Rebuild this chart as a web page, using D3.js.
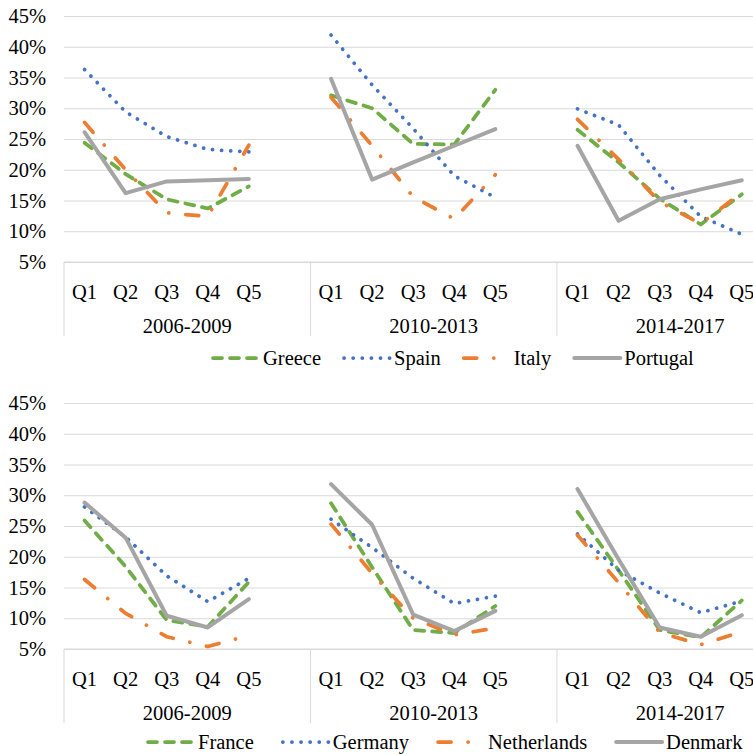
<!DOCTYPE html>
<html>
<head>
<meta charset="utf-8">
<script src="https://cdn.jsdelivr.net/npm/d3@7"></script>
<style>
  html, body { margin: 0; padding: 0; background: #fff; }
  svg text { font-family: "Liberation Serif", "Times New Roman", serif; fill: #000; }
</style>
</head>
<body>
<svg id="chart" width="753" height="754"></svg>
<script>
// ---------------- DATA ----------------
const periods = ["2006-2009", "2010-2013", "2014-2017"];
const quintiles = ["Q1", "Q2", "Q3", "Q4", "Q5"];
const yTicks = [5, 10, 15, 20, 25, 30, 35, 40, 45];

// Top panel (share, %), one array of 5 per period
const greece   = [[24.4, 19.3, 15.2, 13.7, 17.3], [32.1, 30.0, 24.2, 24.1, 33.0], [26.5, 21.2, 15.3, 11.1, 16.0]];
const spain    = [[36.3, 29.4, 25.4, 23.3, 22.9], [41.9, 33.8, 26.7, 19.0, 15.5], [29.9, 27.3, 19.1, 12.4, 9.5]];
const italy    = [[27.7, 20.0, 13.0, 12.4, 24.0], [31.8, 23.9, 15.6, 12.0, 19.2], [28.2, 21.7, 14.8, 11.2, 16.3]];
const portugal = [[26.1, 16.2, 18.1, 18.3, 18.5], [34.8, 18.4, 21.2, 23.9, 26.6], [23.9, 11.7, 15.2, 16.8, 18.3]];

// Bottom panel
const france      = [[25.9, 18.4, 9.7, 8.6, 15.9], [28.7, 18.3, 8.1, 7.6, 12.0], [27.3, 17.8, 8.1, 6.9, 12.9]];
const germany     = [[28.1, 23.2, 16.9, 12.7, 16.5], [26.1, 21.5, 16.5, 12.4, 13.6], [23.7, 17.8, 14.1, 10.9, 12.8]];
const netherlands = [[16.3, 10.8, 7.0, 5.4, 7.2], [25.3, 17.3, 10.0, 7.3, 8.4], [23.5, 15.8, 7.7, 5.7, 7.8]];
const denmark     = [[28.8, 23.1, 10.4, 8.5, 13.1], [31.8, 25.2, 10.6, 7.9, 11.2], [31.0, 19.6, 8.5, 7.0, 10.5]];

const topSeries = [
  { name: "Greece", values: greece, style: "dash" },
  { name: "Spain", values: spain, style: "dot" },
  { name: "Italy", values: italy, style: "dashdot" },
  { name: "Portugal", values: portugal, style: "solid" }
];
const bottomSeries = [
  { name: "France", values: france, style: "dash" },
  { name: "Germany", values: germany, style: "dot" },
  { name: "Netherlands", values: netherlands, style: "dashdot" },
  { name: "Denmark", values: denmark, style: "solid" }
];

// ---------------- STYLES ----------------
const styles = {
  dash:    { color: "#70ad47", width: 3.75, dash: "9 8" },
  dot:     { color: "#4472c4", width: 3.75, dash: "0.1 9" },
  dashdot: { color: "#ed7d31", width: 3.75, dash: "13 17 0.1 17" },
  solid:   { color: "#a5a5a5", width: 4,    dash: null }
};
const gridColor = "#d9d9d9";
const fontSize = 20.5;
const serif = "'Liberation Serif', 'Times New Roman', serif";

const svg = d3.select("#chart");

// category slots: 5 quintiles + 1 blank per period
const slots = [];
periods.forEach(p => { quintiles.forEach(q => slots.push(p + "|" + q)); slots.push(p + "|"); });

const plotLeft = 64, slotW = 41.08;
const x = d3.scaleBand().domain(slots).range([plotLeft, plotLeft + slots.length * slotW]).padding(0);

function drawPanel(series, yTopPx, yBotPx, legendStart, legendGap, legendOffset) {
  const g = svg.append("g");
  const y = d3.scaleLinear().domain([5, 45]).range([yBotPx, yTopPx]);
  const right = x.range()[1];

  // gridlines
  g.append("g")
    .attr("transform", `translate(${plotLeft},0)`)
    .call(d3.axisLeft(y).tickValues(yTicks).tickSize(-(right - plotLeft)).tickFormat(""))
    .call(s => s.select(".domain").remove())
    .call(s => s.selectAll("line").attr("stroke", gridColor).attr("stroke-width", 1));

  // y labels
  g.append("g")
    .attr("transform", `translate(46,0)`)
    .call(d3.axisLeft(y).tickValues(yTicks).tickSize(0).tickPadding(0).tickFormat(d => d + "%"))
    .call(s => s.select(".domain").remove())
    .call(s => s.selectAll("text").attr("font-size", fontSize).style("font-family", serif).attr("fill", "#000"));

  // x axis quintile labels
  const xa = g.append("g")
    .attr("transform", `translate(0,${yBotPx})`)
    .call(d3.axisBottom(x).tickSize(0).tickPadding(0).tickFormat(d => d.split("|")[1]))
    .call(s => s.select(".domain").remove());
  xa.selectAll("text").attr("font-size", fontSize).style("font-family", serif)
    .attr("fill", "#000").attr("dy", null).attr("y", 30).attr("dominant-baseline", "central");

  // axis line
  g.append("line").attr("x1", plotLeft).attr("x2", right).attr("y1", yBotPx).attr("y2", yBotPx)
    .attr("stroke", gridColor).attr("stroke-width", 1);

  // group separators and labels
  periods.forEach((p, i) => {
    const x0 = x(p + "|Q1");
    const x1 = x0 + 6 * slotW;
    g.append("line").attr("x1", x0).attr("x2", x0).attr("y1", yBotPx).attr("y2", yBotPx + 74)
      .attr("stroke", gridColor).attr("stroke-width", 1);
    if (i === periods.length - 1) {
      g.append("line").attr("x1", x1).attr("x2", x1).attr("y1", yBotPx).attr("y2", yBotPx + 74)
        .attr("stroke", gridColor).attr("stroke-width", 1);
    }
    g.append("text").attr("x", (x0 + x1) / 2).attr("y", yBotPx + 64)
      .attr("text-anchor", "middle").attr("dominant-baseline", "central")
      .attr("font-size", fontSize).style("font-family", serif).text(p);
  });

  // lines
  const line = d3.line().x(d => x(d.slot) + x.bandwidth() / 2).y(d => y(d.v));
  series.forEach(s => {
    const st = styles[s.style];
    s.values.forEach((vals, pi) => {
      const pts = vals.map((v, qi) => ({ slot: periods[pi] + "|" + quintiles[qi], v }));
      g.append("path").attr("d", line(pts)).attr("fill", "none")
        .attr("stroke", st.color).attr("stroke-width", st.width)
        .attr("stroke-linecap", "round").attr("stroke-linejoin", "round")
        .attr("stroke-dasharray", st.dash);
    });
  });

  // legend
  const ly = yBotPx + legendOffset;
  let lx = legendStart;
  series.forEach(s => {
    const st = styles[s.style];
    g.append("line").attr("x1", lx + 2).attr("x2", lx + 48).attr("y1", ly).attr("y2", ly)
      .attr("stroke", st.color).attr("stroke-width", st.width)
      .attr("stroke-linecap", "round").attr("stroke-dasharray", st.dash);
    const t = g.append("text").attr("x", lx + 52).attr("y", ly).attr("dominant-baseline", "central")
      .attr("font-size", fontSize).style("font-family", serif).text(s.name);
    const w = t.node().getComputedTextLength();
    lx = lx + 52 + w + legendGap;
  });
}

drawPanel(topSeries, 16, 262, 211, 21, 96);
drawPanel(bottomSeries, 403, 649, 146, 27, 93);
</script>
</body>
</html>
